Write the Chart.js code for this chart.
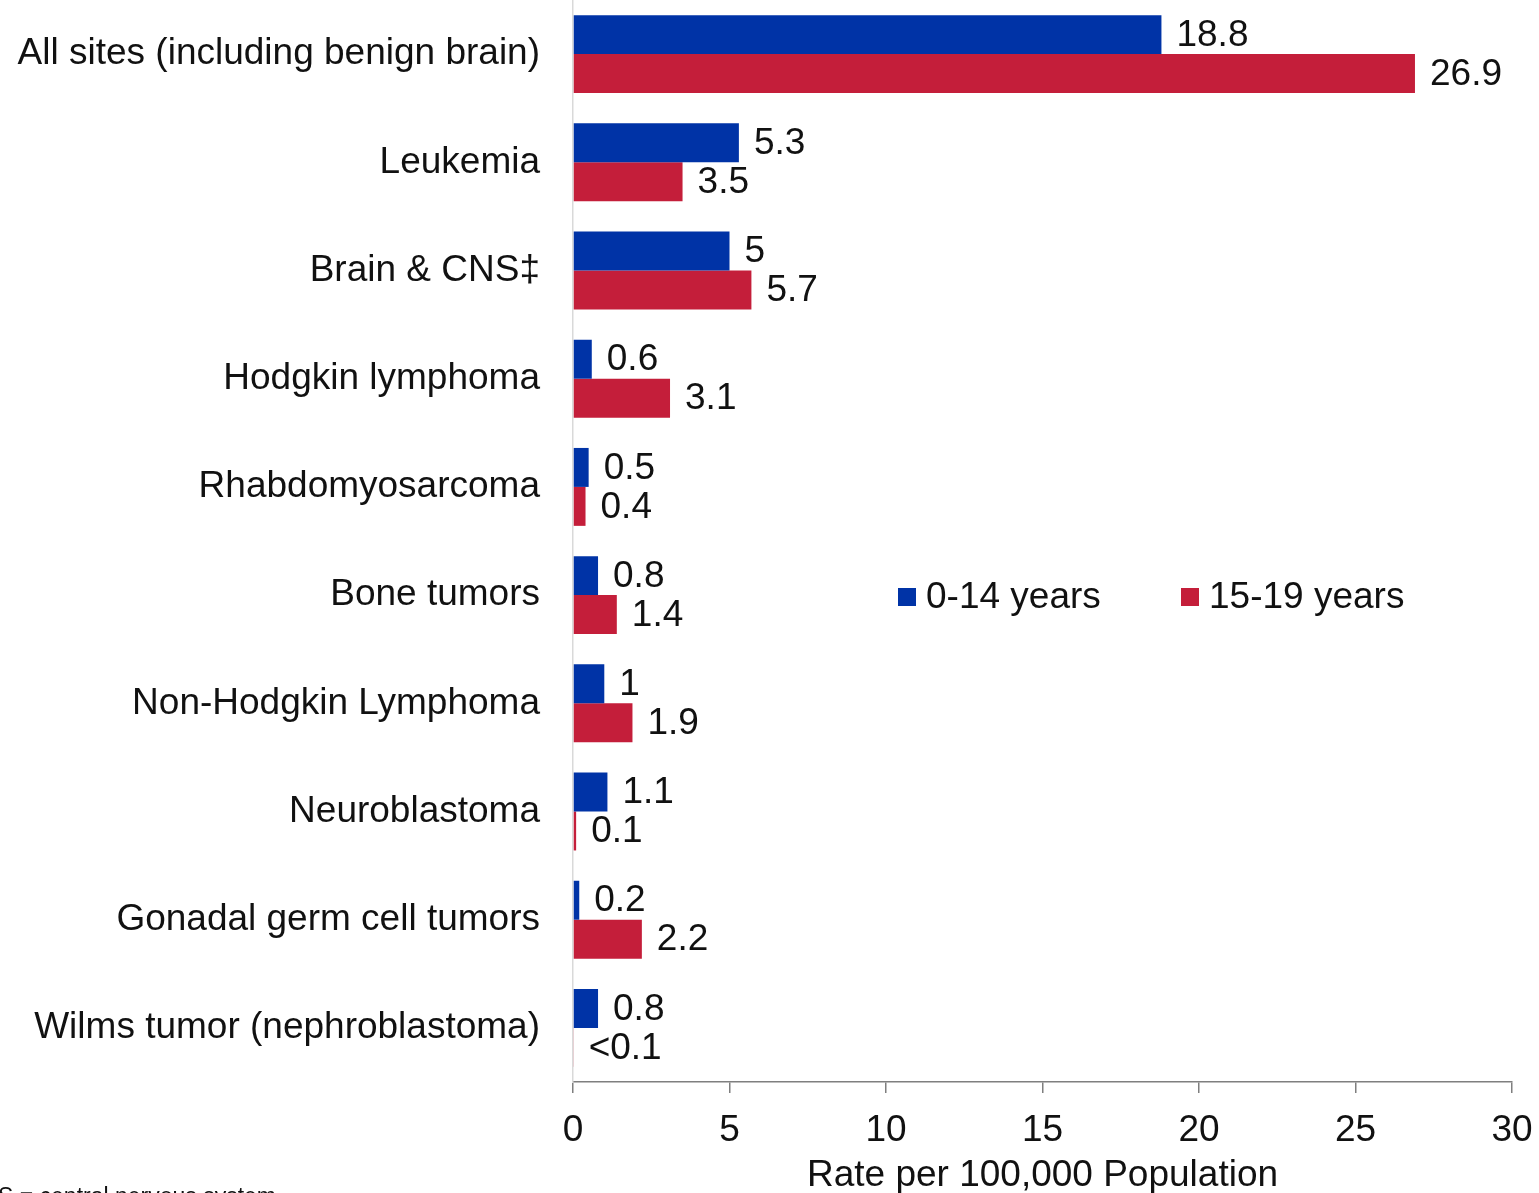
<!DOCTYPE html>
<html>
<head>
<meta charset="utf-8">
<script src="https://cdn.jsdelivr.net/npm/chart.js@4.4.0/dist/chart.umd.min.js"></script>
<style>
  html, body { margin: 0; padding: 0; background: #fff; }
  #wrap { width: 1539px; height: 1193px; }
</style>
</head>
<body>
<div id="wrap"><canvas id="chart"></canvas></div>
<script>
const categories = [
  "All sites (including benign brain)",
  "Leukemia",
  "Brain & CNS\u2021",
  "Hodgkin lymphoma",
  "Rhabdomyosarcoma",
  "Bone tumors",
  "Non-Hodgkin Lymphoma",
  "Neuroblastoma",
  "Gonadal germ cell tumors",
  "Wilms tumor (nephroblastoma)"
];
const kids = [18.8, 5.3, 5, 0.6, 0.5, 0.8, 1, 1.1, 0.2, 0.8];
const teens = [26.9, 3.5, 5.7, 3.1, 0.4, 1.4, 1.9, 0.1, 2.2, 0.02];
const kidsLabels = ["18.8", "5.3", "5", "0.6", "0.5", "0.8", "1", "1.1", "0.2", "0.8"];
const teensLabels = ["26.9", "3.5", "5.7", "3.1", "0.4", "1.4", "1.9", "0.1", "2.2", "<0.1"];
const xTicks = [0, 5, 10, 15, 20, 25, 30];

const FONT = "'Liberation Sans', Arial, sans-serif";
const blue = "#0033a6";
const red = "#c41e3a";

// value labels next to each bar
const barLabels = {
  id: "barLabels",
  afterDatasetsDraw(chart) {
    const ctx = chart.ctx;
    const texts = [kidsLabels, teensLabels];
    ctx.save();
    ctx.font = "37px " + FONT;
    ctx.fillStyle = "#111";
    ctx.textBaseline = "middle";
    ctx.textAlign = "left";
    chart.data.datasets.forEach((ds, i) => {
      chart.getDatasetMeta(i).data.forEach((bar, j) => {
        ctx.fillText(texts[i][j], bar.x + 15, bar.y + 1);
      });
    });
    ctx.restore();
  }
};

// legend inside the plot, plus the cut off footnote
const extras = {
  id: "extras",
  afterDraw(chart) {
    const ctx = chart.ctx;
    ctx.save();
    ctx.font = "37px " + FONT;
    ctx.textBaseline = "middle";
    const items = [[898, 0], [1181, 1]];
    items.forEach(([x, i]) => {
      const ds = chart.data.datasets[i];
      ctx.fillStyle = ds.backgroundColor;
      ctx.fillRect(x, 588, 18, 18);
      ctx.fillStyle = "#111";
      ctx.fillText(ds.label, x + 28, 598);
    });

    ctx.font = "23px " + FONT;
    ctx.textBaseline = "alphabetic";
    const off = ctx.measureText("\u2021CN").width;
    ctx.fillText("\u2021CNS = central nervous system", -off - 2, 1204);
    ctx.restore();
  }
};

new Chart(document.getElementById("chart"), {
  type: "bar",
  data: {
    labels: categories,
    datasets: [
      { label: "0-14 years", data: kids, backgroundColor: blue },
      { label: "15-19 years", data: teens, backgroundColor: red }
    ]
  },
  options: {
    indexAxis: "y",
    responsive: true,
    maintainAspectRatio: false,
    animation: false,
    layout: { padding: { left: 0, right: 27, top: 0, bottom: 0 } },
    datasets: { bar: { categoryPercentage: 0.72, barPercentage: 1.0 } },
    plugins: {
      legend: { display: false },
      tooltip: { enabled: false }
    },
    scales: {
      x: {
        min: 0,
        max: 30,
        afterBuildTicks(axis) {
          axis.ticks = xTicks.map(v => ({ value: v }));
        },
        grid: {
          drawOnChartArea: false,
          drawTicks: true,
          tickLength: 11,
          color: "#7f7f7f",
          lineWidth: 1.5
        },
        border: { display: true, color: "#7f7f7f", width: 1.5 },
        ticks: {
          color: "#111",
          font: { family: FONT, size: 37 },
          padding: 16,
          maxRotation: 0
        },
        title: {
          display: true,
          text: "Rate per 100,000 Population",
          color: "#111",
          font: { family: FONT, size: 37 },
          padding: { top: 0, bottom: -5 }
        },
        afterFit(axis) {
          axis.height = 111;
          axis.paddingLeft = 0;
          axis.paddingRight = 0;
        }
      },
      y: {
        grid: { display: false },
        border: { display: true, color: "#d9d9d9", width: 1.5 },
        ticks: {
          color: "#111",
          font: { family: FONT, size: 37 },
          padding: 25,
          autoSkip: false
        },
        afterFit(axis) {
          axis.width = 573;
          axis.paddingTop = 0;
          axis.paddingBottom = 0;
        }
      }
    }
  },
  plugins: [barLabels, extras]
});
</script>
</body>
</html>
